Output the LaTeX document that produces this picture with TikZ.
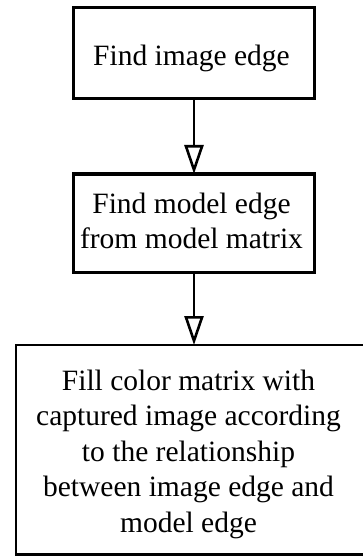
\documentclass[tikz,border=0pt]{standalone}
\usepackage{fontspec}
\setmainfont{Liberation Serif}
\usetikzlibrary{arrows.meta}
\begin{document}
\begin{tikzpicture}[x=1pt,y=-1pt,
  boxthick/.style={draw=black, line width=3.2pt, minimum width=241pt, outer sep=0pt, inner sep=0pt},
  boxthin/.style={draw=black, line width=2.2pt, minimum width=380pt, minimum height=209.5pt, outer sep=0pt, inner sep=0pt},
  txt/.style={font=\fontsize{29.5pt}{35.5pt}\selectfont, align=center, inner sep=0pt, outer sep=0pt},
  flow/.style={draw=black, line width=2.8pt, -{Triangle[open, length=29pt, width=19pt, line width=2.6pt]}}]
\useasboundingbox (0,0) rectangle (363,556);
\begin{scope}
\clip (0,0) rectangle (363,556);
\node[boxthick, minimum height=91pt] (b1) at (194,53) {};
\node[boxthick, minimum height=98.5pt] (b2) at (194,223.25) {};
\node[boxthin] (b3) at (206,449.75) {};
\end{scope}
\node[txt] (t1) at (191.5,58.8) {Find image edge};
\node[txt] (t2) at (191.5,221) {Find model edge\\from model matrix};
\node[txt] (t3) at (188.5,454) {Fill color matrix with\\captured image according\\to the relationship\\between image edge and\\model edge};
\draw[flow] (b1.south) -- (b2.north);
\draw[flow] (b2.south) -- (b2.south |- b3.north);
\end{tikzpicture}
\end{document}
